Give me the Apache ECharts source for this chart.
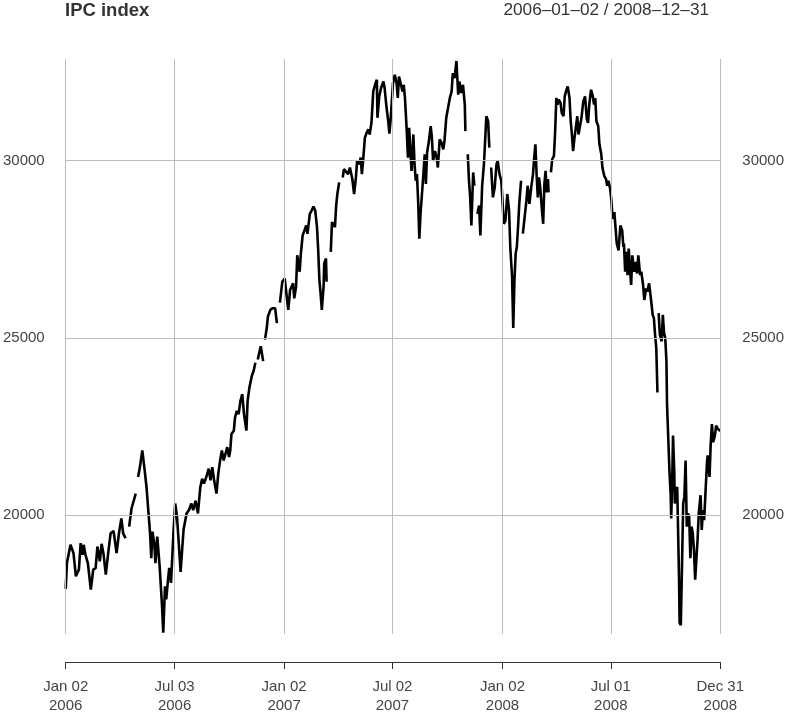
<!DOCTYPE html>
<html>
<head>
<meta charset="utf-8">
<title>IPC index</title>
<script src="https://cdn.jsdelivr.net/npm/echarts@6/dist/echarts.min.js"></script>
<style>
  html, body { margin: 0; padding: 0; background: #fff; }
  #chart { width: 787px; height: 715px; }
</style>
</head>
<body>
<div id="chart"></div>
<script>
// IPC index, 2006-01-02 / 2008-12-31 (null = missing observation, line breaks there)
const dates = [
  '2006-01-02','2006-01-04','2006-01-10','2006-01-15','2006-01-19','2006-01-24','2006-01-27','2006-01-30',
  '2006-02-01','2006-02-04','2006-02-08','2006-02-13','2006-02-17','2006-02-21','2006-02-24','2006-02-28',
  '2006-03-03','2006-03-06','2006-03-10','2006-03-14','2006-03-18','2006-03-23','2006-03-28',
  '2006-04-01','2006-04-05','2006-04-08','2006-04-12','2006-04-14','2006-04-18','2006-04-22','2006-04-25','2006-04-29',
  '2006-05-01','2006-05-03','2006-05-06','2006-05-10','2006-05-14','2006-05-17','2006-05-20','2006-05-23','2006-05-25','2006-05-27','2006-05-30',
  '2006-06-01','2006-06-04','2006-06-08','2006-06-12','2006-06-14','2006-06-17','2006-06-19','2006-06-22','2006-06-24','2006-06-27',
  '2006-07-01','2006-07-04','2006-07-07','2006-07-10','2006-07-13','2006-07-15','2006-07-18','2006-07-23','2006-07-27','2006-07-31',
  '2006-08-03','2006-08-07','2006-08-11','2006-08-15','2006-08-18','2006-08-21','2006-08-25','2006-08-29',
  '2006-09-01','2006-09-04','2006-09-07','2006-09-11','2006-09-14','2006-09-17','2006-09-20','2006-09-23','2006-09-26','2006-09-29',
  '2006-10-02','2006-10-04','2006-10-06','2006-10-10','2006-10-12','2006-10-15','2006-10-18','2006-10-21','2006-10-24','2006-10-27','2006-10-31',
  '2006-11-02','2006-11-05','2006-11-09','2006-11-12','2006-11-15','2006-11-17','2006-11-19','2006-11-22','2006-11-24','2006-11-28','2006-11-29',
  '2006-12-01','2006-12-04','2006-12-06','2006-12-10','2006-12-14','2006-12-18','2006-12-21','2006-12-24','2006-12-26','2006-12-30',
  '2007-01-03','2007-01-04','2007-01-07','2007-01-09','2007-01-12','2007-01-17','2007-01-19','2007-01-22','2007-01-24','2007-01-28','2007-01-30',
  '2007-02-02','2007-02-08','2007-02-10','2007-02-14','2007-02-17','2007-02-20','2007-02-23','2007-02-26','2007-02-28',
  '2007-03-02','2007-03-04','2007-03-06','2007-03-09','2007-03-10','2007-03-13','2007-03-14','2007-03-16','2007-03-21','2007-03-23','2007-03-25','2007-03-28','2007-03-30',
  '2007-04-01','2007-04-04','2007-04-06','2007-04-10','2007-04-12','2007-04-15','2007-04-19','2007-04-22','2007-04-26','2007-04-29',
  '2007-05-02','2007-05-04','2007-05-08','2007-05-10','2007-05-12','2007-05-14','2007-05-17','2007-05-20','2007-05-23','2007-05-25','2007-05-28','2007-05-31',
  '2007-06-03','2007-06-06','2007-06-07','2007-06-10','2007-06-13','2007-06-17','2007-06-19','2007-06-22','2007-06-25','2007-06-27','2007-06-29',
  '2007-07-03','2007-07-06','2007-07-09','2007-07-11','2007-07-13','2007-07-16','2007-07-19','2007-07-21','2007-07-23','2007-07-26','2007-07-28','2007-07-30',
  '2007-08-01','2007-08-03','2007-08-06','2007-08-08','2007-08-10','2007-08-12','2007-08-14','2007-08-16','2007-08-18','2007-08-20','2007-08-22','2007-08-25','2007-08-27','2007-08-29',
  '2007-09-01','2007-09-04','2007-09-06','2007-09-08','2007-09-11','2007-09-14','2007-09-16','2007-09-19','2007-09-22','2007-09-25','2007-09-27','2007-09-30',
  '2007-10-03','2007-10-06','2007-10-09','2007-10-11','2007-10-14','2007-10-17','2007-10-20','2007-10-22','2007-10-25','2007-10-28','2007-10-31',
  '2007-11-01','2007-11-03','2007-11-05','2007-11-07','2007-11-09','2007-11-11','2007-11-14','2007-11-16','2007-11-19','2007-11-21','2007-11-24','2007-11-26','2007-11-29',
  '2007-12-02','2007-12-06','2007-12-09','2007-12-11','2007-12-13','2007-12-14','2007-12-17','2007-12-20','2007-12-23','2007-12-25','2007-12-28','2007-12-31',
  '2008-01-02','2008-01-04','2008-01-07','2008-01-10','2008-01-13','2008-01-15','2008-01-18','2008-01-20','2008-01-22','2008-01-24','2008-01-26','2008-01-28','2008-01-30',
  '2008-02-02','2008-02-03','2008-02-05','2008-02-08','2008-02-11','2008-02-13','2008-02-16','2008-02-19','2008-02-22','2008-02-24','2008-02-26','2008-02-28',
  '2008-03-01','2008-03-03','2008-03-05','2008-03-08','2008-03-10','2008-03-12','2008-03-14','2008-03-16','2008-03-18','2008-03-19','2008-03-21','2008-03-23','2008-03-25','2008-03-28','2008-03-30',
  '2008-04-01','2008-04-03','2008-04-05','2008-04-08','2008-04-10','2008-04-13','2008-04-15','2008-04-17','2008-04-20','2008-04-23','2008-04-25','2008-04-27','2008-04-29',
  '2008-05-01','2008-05-03','2008-05-06','2008-05-08','2008-05-11','2008-05-13','2008-05-16','2008-05-19','2008-05-22','2008-05-24','2008-05-26','2008-05-29',
  '2008-06-01','2008-06-03','2008-06-05','2008-06-07','2008-06-10','2008-06-12','2008-06-15','2008-06-17','2008-06-20','2008-06-23','2008-06-25','2008-06-27','2008-06-30',
  '2008-07-02','2008-07-04','2008-07-07','2008-07-08','2008-07-11','2008-07-14','2008-07-17','2008-07-20','2008-07-22','2008-07-23','2008-07-25','2008-07-27','2008-07-29','2008-07-31',
  '2008-08-02','2008-08-04','2008-08-06','2008-08-09','2008-08-11','2008-08-14','2008-08-16','2008-08-19','2008-08-21','2008-08-24','2008-08-26','2008-08-29','2008-08-31',
  '2008-09-03','2008-09-06','2008-09-09','2008-09-11','2008-09-13','2008-09-15','2008-09-17','2008-09-18','2008-09-19','2008-09-21','2008-09-24','2008-09-26','2008-09-28','2008-09-30',
  '2008-10-02','2008-10-03','2008-10-05','2008-10-07','2008-10-09','2008-10-10','2008-10-12','2008-10-13','2008-10-15','2008-10-16','2008-10-18','2008-10-20','2008-10-21','2008-10-23','2008-10-24','2008-10-26','2008-10-28','2008-10-30',
  '2008-11-01','2008-11-03','2008-11-05','2008-11-07','2008-11-09','2008-11-11','2008-11-13','2008-11-15','2008-11-17','2008-11-19','2008-11-21','2008-11-23','2008-11-25','2008-11-28','2008-11-30',
  '2008-12-02','2008-12-04','2008-12-07','2008-12-09','2008-12-10','2008-12-13','2008-12-15','2008-12-17','2008-12-19','2008-12-22','2008-12-24','2008-12-27','2008-12-30','2008-12-31'
];
const ipc = [
  17922,18650,19166,18930,18278,18465,19211,18886,
  19166,18886,18650,17905,18465,18510,19118,18698,
  19194,18930,18325,18930,19490,19556,18930,
  19490,19910,19490,19350,null,19678,20190,20238,20611,
  null,21079,21359,21826,21266,20798,20146,19490,18790,19537,19211,
  18650,19398,18558,17437,16690,17998,17625,18185,18512,18091,
  19490,20330,19958,19200,18400,18350,19600,20050,20146,20330,
  20146,20407,20050,20798,21031,20891,21079,21312,
  20985,21359,20985,20611,21172,21546,21826,21546,21732,21919,
  21639,21826,22292,22386,22760,22947,22853,23227,23414,22853,22386,
  23227,23600,23927,24067,24300,null,24393,24627,24767,24347,null,
  24953,25280,25608,25794,25841,25841,25420,null,26000,26588,
  26681,26540,26073,25794,26353,26540,26120,26448,27333,26868,27381,
  27894,28174,27941,28501,28594,28706,28594,28129,27474,
  26633,26260,25794,26448,27101,27241,26588,null,27428,28269,28221,28129,28734,
  29062,29389,null,29529,29762,29762,29622,29809,29482,29062,
  29529,29995,29902,30089,29622,29995,30650,30790,30882,30742,31070,31955,
  32143,32283,31210,31815,32050,32235,32050,31535,31115,30762,31162,
  32190,32423,32190,31770,32376,32330,31955,32143,31770,30836,30089,30929,
  30275,29715,30742,29902,29435,29622,28874,27801,28501,28501,29435,30182,29342,30229,
  30555,30975,30650,29995,30275,30089,29809,30602,30510,30322,30555,31210,
  31490,31770,31955,32470,32330,32815,31862,32235,31910,32143,31583,
  30836,null,30182,29435,28968,28174,29669,29295,null,28501,28734,27894,29295,
  29902,31255,31115,30370,null,29809,28968,29249,29902,29995,29622,29435,
  28874,28221,28314,29062,28594,27568,26728,25280,26633,27381,27568,28129,28782,
  29435,null,27941,28408,28874,29295,28782,29249,29622,30089,30462,29622,
  28968,29529,29249,28594,28221,29342,29715,29109,29482,29109,null,29669,30042,30136,30836,
  31770,31583,31723,31630,31350,31255,31815,31955,32096,31770,31115,30742,30275,
  30602,30650,31255,30742,30742,31210,31676,31815,31162,31070,31583,32003,
  31815,31583,31770,31115,30975,30462,30200,29809,29575,29482,29295,29435,29202,
  28874,28361,28548,28314,27661,27474,28174,28034,27568,27661,26868,27428,26774,27521,
  26961,26494,27333,26868,27148,26821,27333,26774,26868,26494,26073,26401,26308,
  26540,26120,25653,25560,25093,24720,23460,null,25700,25093,24907,25653,25140,25000,
  24347,23132,22199,21266,20611,19910,21266,22246,21266,20330,20704,20798,19958,18278,16971,16897,18558,20330,
  20518,21546,19678,20050,19958,18790,19678,19490,19024,18185,18745,19304,20050,20564,19585,
  20146,19864,20891,21546,21686,21079,22012,22572,22059,22246,22526,22432,22432,22380
];
const tickDates = ['2006-01-02','2006-07-03','2007-01-02','2007-07-02','2008-01-02','2008-07-01','2008-12-31'];
const tickLabels = ['Jan 02\n2006','Jul 03\n2006','Jan 02\n2007','Jul 02\n2007','Jan 02\n2008','Jul 01\n2008','Dec 31\n2008'];
const yTicks = [20000, 25000, 30000];

const FONT = 'Liberation Sans, Arial, sans-serif';
const toTime = s => echarts.number.parseDate(s).getTime();
const tickTimes = tickDates.map(toTime);
const seriesData = dates.map((d, i) => [toTime(d), ipc[i] === null ? '-' : ipc[i]]);

const chart = echarts.init(document.getElementById('chart'));

const gridLineStyle = { color: '#bdbdbd', width: 1, type: 'solid' };
const yLabel = { customValues: yTicks, color: '#444', fontFamily: FONT, fontSize: 15, formatter: v => String(v) };

const option = {
  animation: false,
  backgroundColor: '#fff',
  title: [
    {
      text: 'IPC index', left: 65, top: 1, padding: 0,
      textStyle: { fontFamily: FONT, fontSize: 18.5, fontWeight: 'bold', color: '#333' }
    },
    {
      text: '2006\u201301\u201302 / 2008\u201312\u201331', right: 78, top: 2, padding: 0,
      textStyle: { fontFamily: FONT, fontSize: 17.2, fontWeight: 'normal', color: '#333' }
    }
  ],
  grid: { left: 65, right: 65, top: 59, bottom: 77, containLabel: false },
  xAxis: {
    // dates as epoch ms on a value axis, so ticks can sit on the exact trading days
    type: 'value',
    min: tickTimes[0],
    max: tickTimes[tickTimes.length - 1],
    offset: 28,
    axisLine: { show: true, lineStyle: { color: '#333', width: 1 } },
    axisTick: { show: true, length: 7, lineStyle: { color: '#333' }, customValues: tickTimes },
    axisLabel: {
      customValues: tickTimes,
      showMinLabel: true, showMaxLabel: true,
      margin: 16, color: '#444', fontFamily: FONT, fontSize: 15, lineHeight: 18.5,
      formatter: v => {
        const i = tickTimes.indexOf(v);
        return i >= 0 ? tickLabels[i] : '';
      }
    },
    splitLine: { show: false }
  },
  yAxis: [
    {
      type: 'value', position: 'left', min: 16650, max: 32870,
      axisLine: { show: false }, axisTick: { show: false },
      axisLabel: Object.assign({ margin: 21 }, yLabel),
      splitLine: { show: false }
    },
    {
      type: 'value', position: 'right', min: 16650, max: 32870,
      axisLine: { show: false }, axisTick: { show: false },
      axisLabel: Object.assign({ margin: 22 }, yLabel),
      splitLine: { show: false }
    }
  ],
  series: [
    {
      // grid lines drawn beneath the data line
      type: 'line', data: [], z: 1, silent: true,
      markLine: {
        silent: true, symbol: 'none', label: { show: false },
        lineStyle: gridLineStyle,
        data: tickTimes.map(t => ({ xAxis: t })).concat(yTicks.map(v => ({ yAxis: v })))
      }
    },
    {
      name: 'IPC', type: 'line', z: 3,
      data: seriesData,
      showSymbol: false, connectNulls: false, sampling: null,
      lineStyle: { color: '#000', width: 2.6 }
    }
  ]
};

chart.setOption(option);
</script>
</body>
</html>
